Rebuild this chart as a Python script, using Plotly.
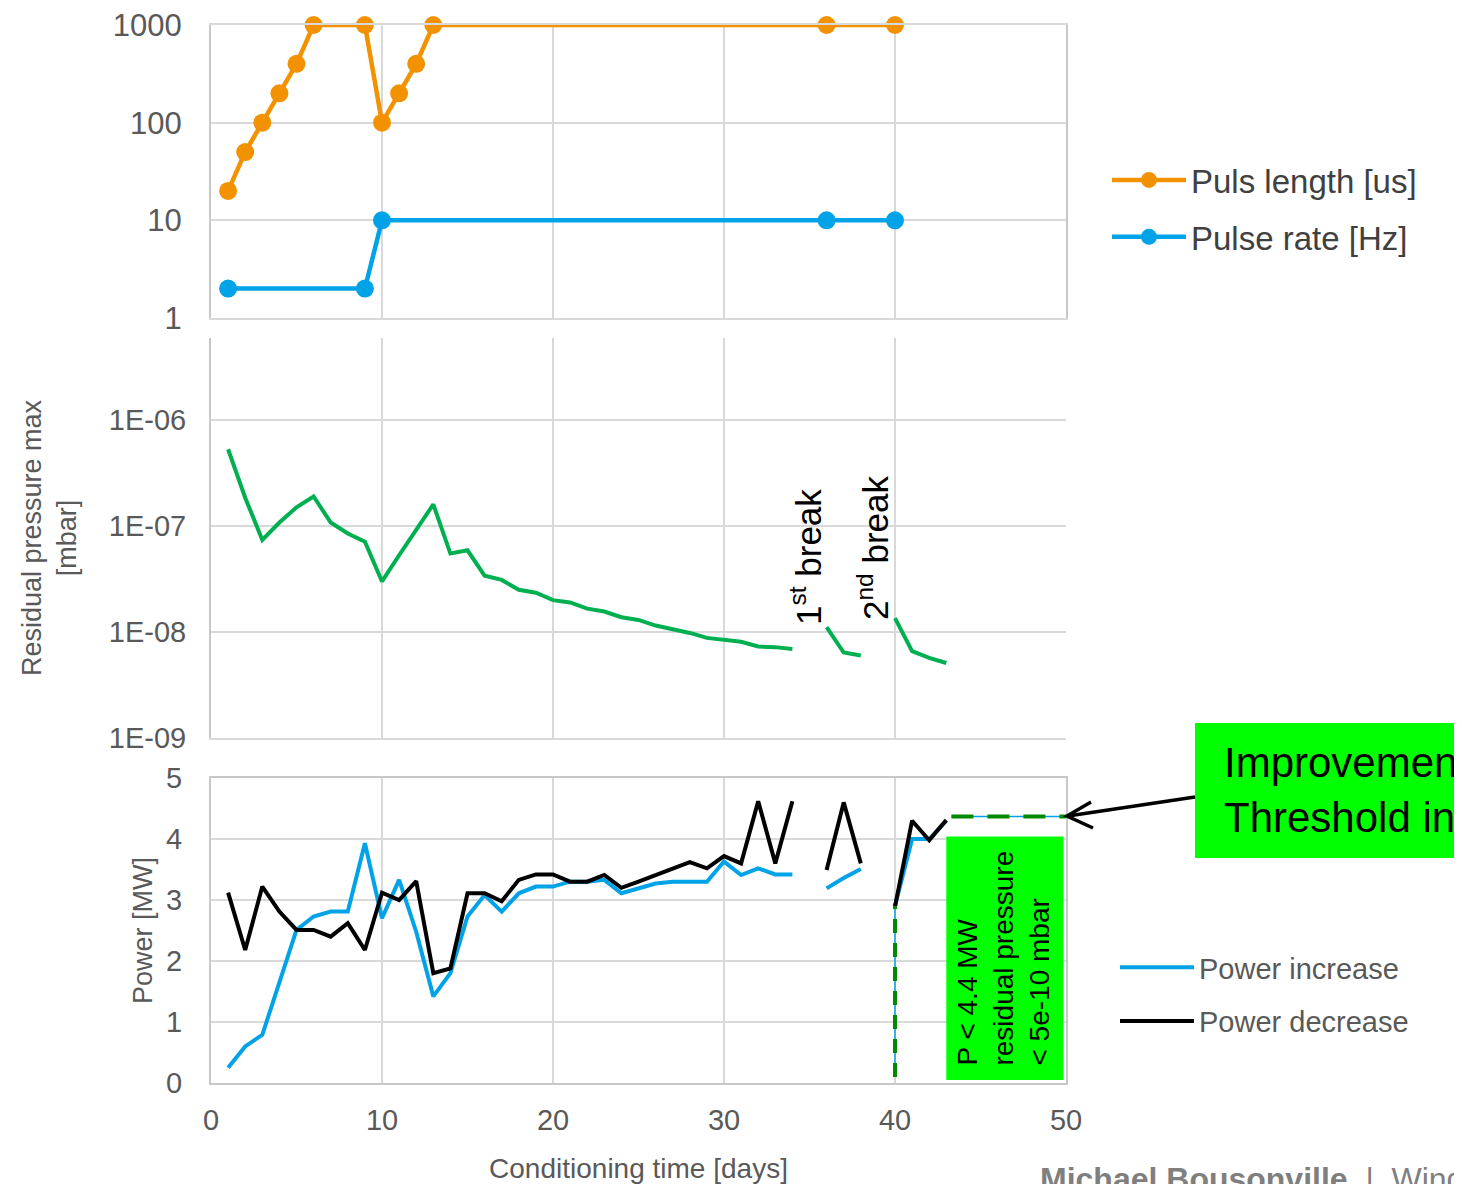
import plotly.graph_objects as go

# ---------------- data ----------------
days_len = [1, 2, 3, 4, 5, 6, 9, 10, 11, 12, 13, 36, 40]
puls_length = [20, 50, 100, 200, 400, 1000, 1000, 100, 200, 400, 1000, 1000, 1000]

days_rate = [1, 9, 10, 36, 40]
pulse_rate = [2, 2, 10, 10, 10]

days = list(range(1, 44))
pressure = [5.3e-7, 1.85e-7, 7.4e-8, 1.08e-7, 1.5e-7, 1.9e-7, 1.08e-7, 8.5e-8, 7.1e-8, 3.0e-8,
            5.3e-8, 9.3e-8, 1.6e-7, 5.5e-8, 5.9e-8, 3.4e-8, 3.1e-8, 2.5e-8, 2.35e-8, 2.0e-8,
            1.9e-8, 1.66e-8, 1.56e-8, 1.38e-8, 1.3e-8, 1.15e-8, 1.07e-8, 9.8e-9, 8.8e-9, 8.5e-9,
            8.1e-9, 7.3e-9, 7.2e-9, 6.9e-9, None, 1.11e-8, 6.4e-9, 6.0e-9, None, 1.35e-8,
            6.6e-9, 5.7e-9, 5.1e-9]

power_increase = [0.25, 0.6, 0.79, 1.66, 2.51, 2.73, 2.81, 2.81, 3.93, 2.7,
                  3.33, 2.48, 1.42, 1.8, 2.73, 3.08, 2.81, 3.11, 3.22, 3.22,
                  3.3, 3.3, 3.33, 3.11, 3.19, 3.27, 3.3, 3.3, 3.3, 3.63,
                  3.41, 3.52, 3.42, 3.42, None, 3.19, 3.36, 3.51, None, 2.9,
                  4.0, 4.0, 4.3]
power_decrease = [3.12, 2.18, 3.22, 2.81, 2.51, 2.51, 2.4, 2.62, 2.18, 3.12,
                  3.0, 3.31, 1.8, 1.88, 3.11, 3.11, 2.98, 3.33, 3.42, 3.42,
                  3.3, 3.3, 3.41, 3.2, 3.3, 3.41, 3.52, 3.62, 3.52, 3.72,
                  3.6, 4.62, 3.6, 4.62, None, 3.49, 4.6, 3.6, None, 2.89,
                  4.3, 3.98, 4.31]

# threshold guide lines (P < 4.4 MW)
thr_v_x = [40, 40]
thr_v_y = [0.1, 2.9]
thr_h_x = [43.3, 50]
thr_h_y = [4.37, 4.37]

x_ticks = [0, 10, 20, 30, 40, 50]
top_ticks = [1, 10, 100, 1000]
top_ticktext = ["1", "10", "100", "1000"]
mid_ticks = [1e-9, 1e-8, 1e-7, 1e-6]
mid_ticktext = ["1E-09", "1E-08", "1E-07", "1E-06"]

# ---------------- styling ----------------
FONT = "Liberation Sans, Arial, sans-serif"
GREY_TXT = "#595959"
GRID = "#d9d9d9"
AXLINE = "#c8c8c8"
ORANGE = "#f39200"
BLUE = "#00a2e8"
GREEN = "#00b050"

W, H = 1462, 1184
OFF = 8  # page body margin of the html page
L, R, T, B = 211, 1066, 25, 1083  # plot area in screenshot pixels


def px(x):
    return (x - L) / (R - L)


def py(y):
    return (B - y) / (B - T)


fig = go.Figure()

fig.add_trace(go.Scatter(x=days_len, y=puls_length, name="Puls length [us]", mode="lines+markers",
                         line=dict(color=ORANGE, width=4.5), marker=dict(size=18, color=ORANGE),
                         xaxis="x", yaxis="y", legend="legend", legendgroup="a", cliponaxis=False))
fig.add_trace(go.Scatter(x=days_rate, y=pulse_rate, name="Pulse rate [Hz]", mode="lines+markers",
                         line=dict(color=BLUE, width=4.5), marker=dict(size=18, color=BLUE),
                         xaxis="x", yaxis="y", legend="legend", legendgroup="b", cliponaxis=False))

fig.add_trace(go.Scatter(x=days, y=pressure, name="Residual pressure", mode="lines",
                         line=dict(color=GREEN, width=4), connectgaps=False,
                         xaxis="x2", yaxis="y2", showlegend=False))

fig.add_trace(go.Scatter(x=thr_v_x, y=thr_v_y, mode="lines", line=dict(color=BLUE, width=1.5),
                         xaxis="x3", yaxis="y3", showlegend=False, hoverinfo="skip"))
fig.add_trace(go.Scatter(x=thr_h_x, y=thr_h_y, mode="lines", line=dict(color=BLUE, width=1.5),
                         xaxis="x3", yaxis="y3", showlegend=False, hoverinfo="skip"))

fig.add_trace(go.Scatter(x=days, y=power_increase, name="Power increase", mode="lines",
                         line=dict(color=BLUE, width=4), connectgaps=False,
                         xaxis="x3", yaxis="y3", legend="legend2", legendgroup="c"))
fig.add_trace(go.Scatter(x=days, y=power_decrease, name="Power decrease", mode="lines",
                         line=dict(color="black", width=4), connectgaps=False,
                         xaxis="x3", yaxis="y3", legend="legend2", legendgroup="d"))

fig.add_trace(go.Scatter(x=thr_v_x, y=thr_v_y, mode="lines",
                         line=dict(color="#008a00", width=4, dash="14px,10px"),
                         xaxis="x3", yaxis="y3", showlegend=False, hoverinfo="skip"))
fig.add_trace(go.Scatter(x=thr_h_x, y=thr_h_y, mode="lines",
                         line=dict(color="#008a00", width=4, dash="22px,14px"),
                         xaxis="x3", yaxis="y3", showlegend=False, hoverinfo="skip"))

tickfont = dict(family=FONT, size=29, color=GREY_TXT)
common_x = dict(range=[0, 50], tickvals=x_ticks, showgrid=True, gridcolor=GRID, gridwidth=2,
                zeroline=False, ticks="", automargin=False)

fig.update_layout(
    width=W, height=H,
    margin=dict(l=L - OFF, r=W - R + OFF, t=T - OFF, b=H - B + OFF, autoexpand=False),
    paper_bgcolor="white", plot_bgcolor="white",
    font=dict(family=FONT, color=GREY_TXT),
    showlegend=True,
    xaxis=dict(**common_x, domain=[0, 1], anchor="y", showticklabels=False,
               showline=True, linecolor=GRID, linewidth=2, mirror=True),
    yaxis=dict(domain=[py(318), py(25)], type="log", range=[0, 3], tickvals=top_ticks,
               ticktext=top_ticktext, tickfont=dict(family=FONT, size=31, color=GREY_TXT),
               showgrid=True, gridcolor=GRID, gridwidth=2, automargin=False,
               ticklabeloverflow="allow",
               showline=True, linecolor=AXLINE, linewidth=2, mirror=True, ticks="",
               ticklabelstandoff=21, zeroline=False),
    xaxis2=dict(**common_x, domain=[0, 1], anchor="y2", showticklabels=False,
                showline=True, linecolor=GRID, linewidth=2),
    yaxis2=dict(domain=[py(738), py(338)], type="log", range=[-9, -5.226], tickvals=mid_ticks,
                ticktext=mid_ticktext, tickfont=tickfont, showgrid=True, gridcolor=GRID, gridwidth=2,
                showline=True, linecolor=AXLINE, linewidth=2, ticks="", ticklabelstandoff=17,
                zeroline=False, automargin=False, ticklabeloverflow="allow",
                title=dict(text="Residual pressure max<br>[mbar]", standoff=24,
                           font=dict(family=FONT, size=27, color=GREY_TXT))),
    xaxis3=dict(**common_x, domain=[0, 1], anchor="y3", showticklabels=True, tickfont=tickfont,
                showline=True, linecolor=AXLINE, linewidth=2, mirror=True, ticklabelstandoff=10,
                ticklabeloverflow="allow",
                title=dict(text="Conditioning time [days]", standoff=24,
                           font=dict(family=FONT, size=28, color=GREY_TXT))),
    yaxis3=dict(domain=[0, py(778)], range=[0, 5], dtick=1, tickfont=tickfont, showgrid=True,
                gridcolor=GRID, gridwidth=2, showline=True, linecolor=AXLINE, linewidth=2,
                mirror=True, ticks="", ticklabelstandoff=21, zeroline=False, automargin=False,
                ticklabeloverflow="allow",
                title=dict(text="Power [MW]", standoff=6,
                           font=dict(family=FONT, size=27, color=GREY_TXT))),
    legend=dict(x=px(1107), y=py(152), xanchor="left", yanchor="top",
                font=dict(family=FONT, size=33, color="#404040"), bgcolor="rgba(0,0,0,0)",
                tracegroupgap=11, traceorder="grouped", itemwidth=74),
    legend2=dict(x=px(1115), y=py(942), xanchor="left", yanchor="top",
                 font=dict(family=FONT, size=29, color=GREY_TXT), bgcolor="rgba(0,0,0,0)",
                 tracegroupgap=13, traceorder="grouped", itemwidth=74),
)

shapes = []
# green info box inside power panel
shapes.append(dict(type="rect", xref="x3", yref="y3", x0=43, x1=49.85, y0=0.05, y1=4.04,
                   fillcolor="#00ff00", line=dict(width=0), layer="above"))
# big green callout box at right
shapes.append(dict(type="rect", xref="paper", yref="paper", x0=px(1195), x1=px(1520),
                   y0=py(858), y1=py(723), fillcolor="#00ff00", line=dict(width=0)))
# arrow from callout to threshold line
shapes.append(dict(type="path", xref="paper", yref="paper",
                   path=f"M {px(1195)},{py(797)} L {px(1068)},{py(816)}",
                   line=dict(color="black", width=3.5)))
shapes.append(dict(type="path", xref="paper", yref="paper",
                   path=f"M {px(1091)},{py(802)} L {px(1067)},{py(816)} L {px(1093)},{py(828)}",
                   line=dict(color="black", width=3.5)))
fig.update_layout(shapes=shapes)

annotations = [
    dict(xref="x3", yref="y3", x=46.35, y=2.05, text="P < 4.4 MW<br>residual pressure<br>< 5e-10 mbar",
         textangle=-90, showarrow=False, align="left",
         font=dict(family=FONT, size=28, color="black")),
    dict(xref="paper", yref="paper", x=px(1222), y=py(790), xanchor="left", yanchor="middle",
         text="Improvement<br>Threshold increase", showarrow=False, align="left",
         font=dict(family=FONT, size=42, color="black")),
    dict(xref="paper", yref="paper", x=px(830), y=py(557), text="1<sup>st</sup> break",
         textangle=-90, showarrow=False, font=dict(family=FONT, size=35, color="black")),
    dict(xref="paper", yref="paper", x=px(897), y=py(548), text="2<sup>nd</sup> break",
         textangle=-90, showarrow=False, font=dict(family=FONT, size=35, color="black")),
    dict(xref="paper", yref="paper", x=px(1038), y=py(1159), xanchor="left", yanchor="top",
         text="<b>Michael Bousonville</b>  |  Wind", showarrow=False,
         font=dict(family=FONT, size=32, color="#7f7f7f")),
]
fig.update_layout(annotations=annotations)

fig.write_html("out.html")
